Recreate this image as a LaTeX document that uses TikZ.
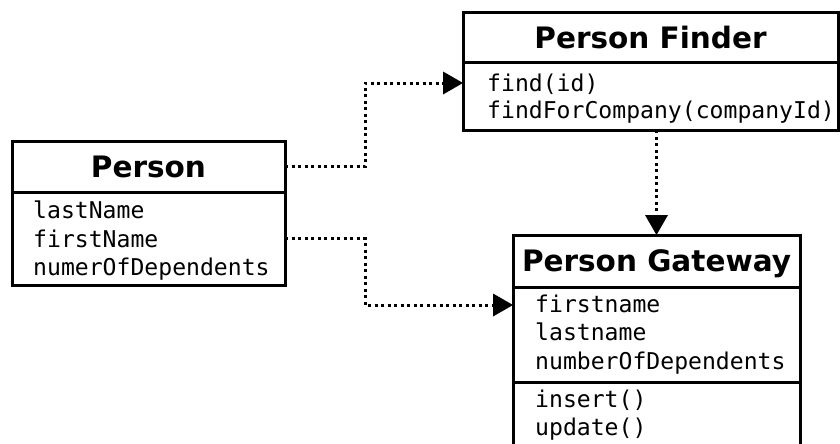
\documentclass[tikz,border=0pt]{standalone}
\usepackage{fontspec}
\newfontfamily\headfont{DejaVu Sans}
\newfontfamily\codefont{DejaVu Sans Mono}
\usetikzlibrary{arrows.meta}

\begin{document}
\begin{tikzpicture}[x=1pt, y=-1pt,
  box/.style={draw, line width=3pt, inner sep=0pt, outer sep=0pt, anchor=north west, fill=white},
  head/.style={box, font=\headfont\bfseries\fontsize{29.5}{35}\selectfont,
               text height=21.5pt, text depth=0pt},
  code/.style={inner sep=0pt, anchor=base west, font=\codefont\fontsize{23.1}{28}\selectfont},
  dep/.style={line width=3pt, dash pattern=on 3pt off 3.5pt,
              -{Triangle[length=20pt, width=23pt, line width=0pt]}}]

  \clip (0,0) rectangle (840,444);
  \fill[white] (0,0) rectangle (840,444);

  % Person Finder
  \node[head, minimum width=375pt, minimum height=50pt] (finderHead) at (463,13) {Person Finder};
  \node[box, minimum width=375pt, minimum height=67pt] (finderBody) at (463,63) {};
  \node[code] (finderOpA) at (487,92) {find(id)};
  \node[code] (finderOpB) at (487,118) {findForCompany(companyId)};

  % Person
  \node[head, minimum width=273pt, minimum height=51pt] (personHead) at (12,141) {Person};
  \node[box, minimum width=273pt, minimum height=93pt] (personBody) at (12,192) {};
  \node[code] (personAttrA) at (33,218) {lastName};
  \node[code] (personAttrB) at (33,247) {firstName};
  \node[code] (personAttrC) at (33,275) {numerOfDependents};

  % Person Gateway
  \node[head, minimum width=287pt, minimum height=52pt] (gwHead) at (513,235) {Person Gateway};
  \node[box, minimum width=287pt, minimum height=95pt] (gwAttr) at (513,287) {};
  \node[box, minimum width=287pt, minimum height=100pt] (gwOps) at (513,382) {};
  \node[code] (gwAttrA) at (535,312) {firstname};
  \node[code] (gwAttrB) at (535,340) {lastname};
  \node[code] (gwAttrC) at (535,369) {numberOfDependents};
  \node[code] (gwOpA) at (535,407) {insert()};
  \node[code] (gwOpB) at (535,435) {update()};

  % Dependencies
  \draw[dep] (personHead.east) -- ++(80,0) |- ([yshift=13.5pt]finderBody.west);
  \draw[dep] (gwHead.north |- finderBody.south) -- (gwHead.north);
  \draw[dep] (personBody.east) -- ++(80,0) |- ([yshift=29.5pt]gwAttr.west);
\end{tikzpicture}
\end{document}
